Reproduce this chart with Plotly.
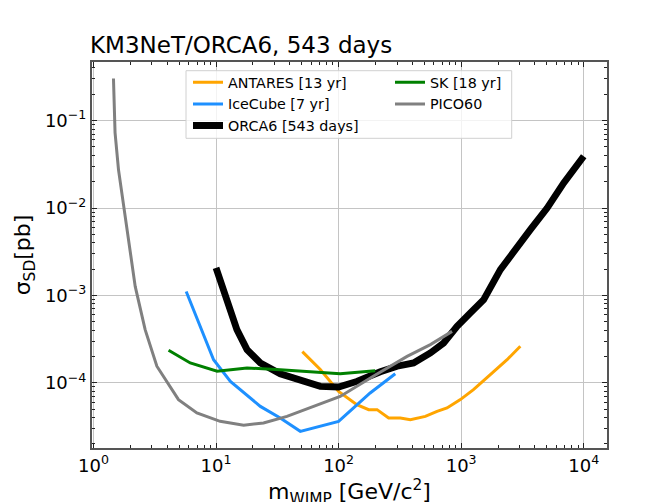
import plotly.graph_objects as go

# ---------------- data ----------------
antares_m = [50.6, 70.9, 100, 141, 176, 206, 256, 319, 385, 510, 636, 767, 985, 1260, 1730, 2370, 3040]
antares_s = [2.28e-4, 1.42e-4, 8.0e-5, 5.64e-5, 4.94e-5, 4.94e-5, 3.96e-5, 3.96e-5, 3.79e-5, 4.14e-5,
             4.72e-5, 5.16e-5, 6.43e-5, 8.36e-5, 1.24e-4, 1.84e-4, 2.62e-4]

icecube_m = [5.71, 9.55, 13.1, 23.0, 33.4, 48.7, 100, 181, 290]
icecube_s = [1.11e-3, 1.84e-4, 1.04e-4, 5.38e-5, 3.97e-5, 2.79e-5, 3.63e-5, 7.66e-5, 1.27e-4]

orca6_m = [10.0, 12.3, 14.8, 17.9, 23.0, 33.4, 55.2, 70.9, 100, 141, 219, 300, 409, 561, 720, 926,
           1190, 1527, 2090, 2860, 3670, 5030, 6870, 10000]
orca6_s = [2.07e-3, 8.95e-4, 4.06e-4, 2.40e-4, 1.69e-4, 1.27e-4, 1.04e-4, 9.12e-5, 8.97e-5, 1.04e-4,
           1.34e-4, 1.55e-4, 1.69e-4, 2.20e-4, 2.86e-4, 4.43e-4, 6.31e-4, 8.96e-4, 1.97e-3, 3.65e-3,
           5.66e-3, 1.0e-2, 1.94e-2, 3.91e-2]

sk_m = [4.10, 6.16, 10.2, 17.9, 33.4, 62.5, 103, 199]
sk_s = [2.36e-4, 1.69e-4, 1.36e-4, 1.48e-4, 1.41e-4, 1.33e-4, 1.27e-4, 1.38e-4]

pico_m = [1.456, 1.50, 1.60, 1.76, 1.93, 2.19, 2.64, 3.29, 4.94, 6.98, 10.8, 16.8, 24.4, 37.9, 62.5,
          103, 192, 362, 561, 843]
pico_s = [0.303, 0.0729, 0.0275, 0.0105, 4.35e-3, 1.27e-3, 4.06e-4, 1.55e-4, 6.43e-5, 4.53e-5, 3.63e-5,
          3.27e-5, 3.48e-5, 4.14e-5, 5.38e-5, 7.0e-5, 1.19e-4, 2.01e-4, 2.74e-4, 3.88e-4]

series_names = ["ANTARES [13 yr]", "IceCube [7 yr]", "ORCA6 [543 days]", "SK [18 yr]", "PICO60"]

x_tickvals = [1, 10, 100, 1000, 10000]
x_ticktext = ["10<sup>0</sup>", "10<sup>1</sup>", "10<sup>2</sup>", "10<sup>3</sup>", "10<sup>4</sup>"]
y_tickvals = [1e-4, 1e-3, 1e-2, 1e-1]
y_ticktext = ["10<sup>\u22124</sup>", "10<sup>\u22123</sup>", "10<sup>\u22122</sup>", "10<sup>\u22121</sup>"]

x_title = "m<sub>WIMP</sub> [GeV/c<sup>2</sup>]"
y_title = "σ<sub>SD</sub>[pb]"

# ---------------- layout geometry ----------------
OFF = 8                      # page offset of the figure div (body margin)
W, H = 667 - OFF, 502 - OFF  # figure size so that it ends at the window edge
L, R, T, B = 84, 60, 54, 54
PW, PH = W - L - R, H - T - B


def px(x):
    """page x pixel -> paper fraction"""
    return (x - OFF - L) / PW


def py(y):
    """page y pixel -> paper fraction"""
    return (T + PH - (y - OFF)) / PH


FONT = "DejaVu Sans"

fig = go.Figure()
specs = [
    (antares_m, antares_s, "#ffa500", 3, "legend"),
    (icecube_m, icecube_s, "#1e90ff", 3, "legend"),
    (orca6_m, orca6_s, "#000000", 6.8, "legend"),
    (sk_m, sk_s, "#008000", 3, "legend2"),
    (pico_m, pico_s, "#808080", 3, "legend2"),
]
for (xm, ys, col, lw, lg), name in zip(specs, series_names):
    fig.add_trace(go.Scatter(x=xm, y=ys, mode="lines", name=name,
                             line=dict(color=col, width=lw), legend=lg))

axis_common = dict(
    type="log", showline=True, linecolor="#555555", linewidth=2, mirror="allticks",
    ticks="inside", ticklen=5, tickwidth=1, tickcolor="#222222",
    showgrid=True, gridcolor="#c4c4c4", gridwidth=1, zeroline=False,
    tickfont=dict(family=FONT, size=18, color="black"), automargin=False,
    minor=dict(ticks="inside", ticklen=3, tickwidth=1, tickcolor="#222222", dtick="D1", showgrid=False),
)

fig.update_layout(
    width=W, height=H,
    margin=dict(l=L, r=R, t=T, b=B, autoexpand=False),
    paper_bgcolor="white", plot_bgcolor="white",
    font=dict(family=FONT, color="black"),
    title=dict(text="KM3NeT/ORCA6, 543 days", x=(90 - OFF) / W, xanchor="left", xref="container",
               y=1 - (45 - OFF) / H, yref="container", yanchor="middle",
               font=dict(family=FONT, size=23, color="black")),
    xaxis=dict(axis_common, range=[-0.012, 4.19], tickmode="array",
               tickvals=x_tickvals, ticktext=x_ticktext),
    yaxis=dict(axis_common, range=[-4.745, -0.33], tickmode="array",
               tickvals=y_tickvals, ticktext=y_ticktext,
               title=dict(text=y_title, standoff=8, font=dict(family=FONT, size=22))),
    annotations=[
        dict(text=x_title, xref="paper", yref="paper", x=0.5, y=py(492), xanchor="center",
             yanchor="middle", showarrow=False, font=dict(family=FONT, size=22, color="black")),
    ],
    legend=dict(x=px(188), y=py(66.5), xanchor="left", yanchor="top", orientation="v",
                bgcolor="rgba(0,0,0,0)", borderwidth=0, font=dict(family=FONT, size=14.3),
                itemwidth=30, tracegroupgap=0),
    legend2=dict(x=px(390), y=py(66.5), xanchor="left", yanchor="top", orientation="v",
                 bgcolor="rgba(0,0,0,0)", borderwidth=0, font=dict(family=FONT, size=14.3),
                 itemwidth=30, tracegroupgap=0),
    shapes=[
        # legend frame
        dict(type="rect", xref="paper", yref="paper", x0=px(186), x1=px(511.7), y0=py(138.3), y1=py(70.7),
             fillcolor="rgba(255,255,255,0.8)", line=dict(color="#d0d0d0", width=1), layer="above"),
    ],
    showlegend=True,
)

fig.write_html("out.html")
